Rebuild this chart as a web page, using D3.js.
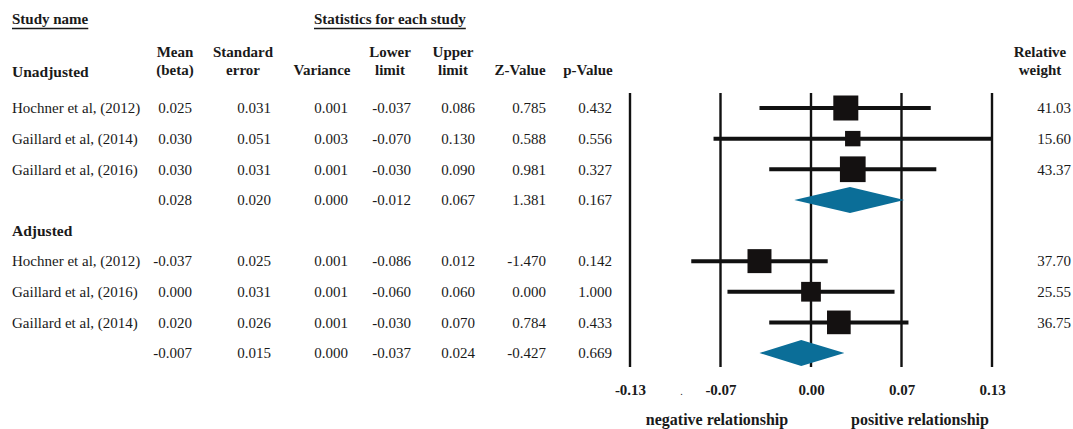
<!DOCTYPE html>
<html>
<head>
<meta charset="utf-8">
<script src="https://cdn.jsdelivr.net/npm/d3@7"></script>
<style>
  body { margin: 0; background: #fff; }
  svg text { font-family: "Liberation Serif", "Times New Roman", serif; fill: #1a1a1a; }
  .bold { font-weight: bold; }
</style>
</head>
<body>
<div id="forest"></div>
<script>
// forest plot data, one entry per row (summary rows have no name / weight)
var rowGroup = ["Unadjusted", "Unadjusted", "Unadjusted", "Unadjusted", "Adjusted", "Adjusted", "Adjusted", "Adjusted"];
var rowName = ["Hochner et al, (2012)", "Gaillard et al, (2014)", "Gaillard et al, (2016)", "",
               "Hochner et al, (2012)", "Gaillard et al, (2016)", "Gaillard et al, (2014)", ""];
var isSummary = [false, false, false, true, false, false, false, true];
var meanVals = [0.025, 0.030, 0.030, 0.028, -0.037, 0.000, 0.020, -0.007];
var seVals = [0.031, 0.051, 0.031, 0.020, 0.025, 0.031, 0.026, 0.015];
var varVals = [0.001, 0.003, 0.001, 0.000, 0.001, 0.001, 0.001, 0.000];
var lowerVals = [-0.037, -0.070, -0.030, -0.012, -0.086, -0.060, -0.030, -0.037];
var upperVals = [0.086, 0.130, 0.090, 0.067, 0.012, 0.060, 0.070, 0.024];
var zVals = [0.785, 0.588, 0.981, 1.381, -1.470, 0.000, 0.784, -0.427];
var pVals = [0.432, 0.556, 0.327, 0.167, 0.142, 1.000, 0.433, 0.669];
var weights = [41.03, 15.60, 43.37, null, 37.70, 25.55, 36.75, null];

var groups = ["Unadjusted", "Adjusted"];
var tickValues = [-0.13, -0.065, 0, 0.065, 0.13];
var tickLabels = ["-0.13", "-0.07", "0.00", "0.07", "0.13"];

var svgWidth = 1073;
var svgHeight = 429;

var svg = d3.select("#forest")
  .append("svg")
  .attr("width", svgWidth)
  .attr("height", svgHeight);

// slot 4 is taken by the "Adjusted" heading
function slotOf(i) { return i < 4 ? i : i + 1; }

var y = d3.scaleLinear().domain([0, 8]).range([108, 353]);
var x = d3.scaleLinear().domain([-0.13, 0.13]).range([630, 992]);
var boxSize = d3.scaleSqrt().domain([0, 50]).range([0, 27.6]);

var fmt = function(v) { return v.toFixed(3); };

// ----- top headings -----
function underlined(txt, xPos) {
  var t = svg.append("text")
    .attr("class", "bold")
    .attr("x", xPos)
    .attr("y", 24)
    .style("font-size", "15px")
    .text(txt);
  var w = t.node().getComputedTextLength();
  svg.append("line")
    .attr("x1", xPos).attr("x2", xPos + w)
    .attr("y1", 28.5).attr("y2", 28.5)
    .attr("stroke", "#1a1a1a").attr("stroke-width", 1.3);
}
underlined("Study name", 12);
underlined("Statistics for each study", 314);

// column layout for the statistics table
var columns = [
  { vals: meanVals, right: 192, center: 175, head: ["Mean", "(beta)"] },
  { vals: seVals, right: 271, center: 243, head: ["Standard", "error"] },
  { vals: varVals, right: 348, center: 322, head: ["", "Variance"] },
  { vals: lowerVals, right: 411, center: 390, head: ["Lower", "limit"] },
  { vals: upperVals, right: 475, center: 453, head: ["Upper", "limit"] },
  { vals: zVals, right: 546, center: 520, head: ["", "Z-Value"] },
  { vals: pVals, right: 612, center: 588, head: ["", "p-Value"] }
];

columns.forEach(function(col) {
  col.head.forEach(function(h, k) {
    svg.append("text")
      .attr("class", "bold")
      .attr("x", col.center)
      .attr("y", k === 0 ? 57 : 75)
      .attr("text-anchor", "middle")
      .style("font-size", "15px")
      .text(h);
  });
  svg.append("g").selectAll("text")
    .data(col.vals)
    .enter()
    .append("text")
    .attr("x", col.right)
    .attr("y", function(d, i) { return y(slotOf(i)); })
    .attr("dy", "0.35em")
    .attr("text-anchor", "end")
    .style("font-size", "15px")
    .text(fmt);
});

// group headings
svg.append("text")
  .attr("class", "bold")
  .attr("x", 12).attr("y", 77)
  .style("font-size", "15.5px")
  .text(groups[0]);
svg.append("text")
  .attr("class", "bold")
  .attr("x", 12).attr("y", y(4))
  .attr("dy", "0.35em")
  .style("font-size", "15.5px")
  .text(groups[1]);

// study names
svg.append("g").selectAll("text")
  .data(rowName)
  .enter()
  .append("text")
  .attr("x", 12)
  .attr("y", function(d, i) { return y(slotOf(i)); })
  .attr("dy", "0.35em")
  .style("font-size", "15px")
  .text(function(d) { return d; });

// relative weight column
svg.append("text").attr("class", "bold")
  .attr("x", 1040).attr("y", 57).attr("text-anchor", "middle")
  .style("font-size", "15px").text("Relative");
svg.append("text").attr("class", "bold")
  .attr("x", 1040).attr("y", 75).attr("text-anchor", "middle")
  .style("font-size", "15px").text("weight");
svg.append("g").selectAll("text")
  .data(weights)
  .enter()
  .append("text")
  .attr("x", 1071)
  .attr("y", function(d, i) { return y(slotOf(i)); })
  .attr("dy", "0.35em")
  .attr("text-anchor", "end")
  .style("font-size", "15px")
  .text(function(d) { return d === null ? "" : d.toFixed(2); });

// ----- plot area -----
// vertical reference lines at each tick
svg.append("g").selectAll("line")
  .data(tickValues)
  .enter()
  .append("line")
  .attr("x1", d => x(d)).attr("x2", d => x(d))
  .attr("y1", 93).attr("y2", 367)
  .attr("stroke", "#111")
  .attr("stroke-width", 2.4);

// confidence interval lines for the single studies
var studyIdx = d3.range(meanVals.length).filter(i => !isSummary[i]);
svg.append("g").selectAll("line")
  .data(studyIdx)
  .enter()
  .append("line")
  .attr("x1", i => x(lowerVals[i]))
  .attr("x2", i => x(upperVals[i]))
  .attr("y1", i => y(slotOf(i)))
  .attr("y2", i => y(slotOf(i)))
  .attr("stroke", "#111")
  .attr("stroke-width", 4);

// weight squares
svg.append("g").selectAll("rect")
  .data(studyIdx)
  .enter()
  .append("rect")
  .attr("x", i => x(meanVals[i]) - boxSize(weights[i]) / 2)
  .attr("y", i => y(slotOf(i)) - boxSize(weights[i]) / 2)
  .attr("width", i => boxSize(weights[i]))
  .attr("height", i => boxSize(weights[i]))
  .attr("fill", "#141111");

// pooled estimate diamonds
var sumIdx = d3.range(meanVals.length).filter(i => isSummary[i]);
svg.append("g").selectAll("path")
  .data(sumIdx)
  .enter()
  .append("path")
  .attr("d", function(i) {
    var cy = y(slotOf(i));
    return d3.line()([
      [x(lowerVals[i]), cy],
      [x(meanVals[i]), cy - 13],
      [x(upperVals[i]), cy],
      [x(meanVals[i]), cy + 13]
    ]) + "Z";
  })
  .attr("fill", "#0b6e98");

// bottom axis labels
var axis = d3.axisBottom(x)
  .tickValues(tickValues)
  .tickSize(0)
  .tickPadding(0)
  .tickFormat((d, i) => tickLabels[i]);
var axisG = svg.append("g")
  .attr("transform", "translate(0, 384)")
  .call(axis);
axisG.select(".domain").remove();
axisG.selectAll("text")
  .attr("class", "bold")
  .style("font-size", "15px")
  .style("font-family", "'Liberation Serif', serif")
  .attr("fill", "#1a1a1a");

// stray dot left in the original between the first two ticks
svg.append("text")
  .attr("x", x(-0.093)).attr("y", 395)
  .attr("text-anchor", "middle")
  .style("font-size", "10px")
  .text(".");

svg.append("text").attr("class", "bold")
  .attr("x", 717).attr("y", 425).attr("text-anchor", "middle")
  .style("font-size", "16px").text("negative relationship");
svg.append("text").attr("class", "bold")
  .attr("x", 920).attr("y", 425).attr("text-anchor", "middle")
  .style("font-size", "16px").text("positive relationship");
</script>
</body>
</html>
